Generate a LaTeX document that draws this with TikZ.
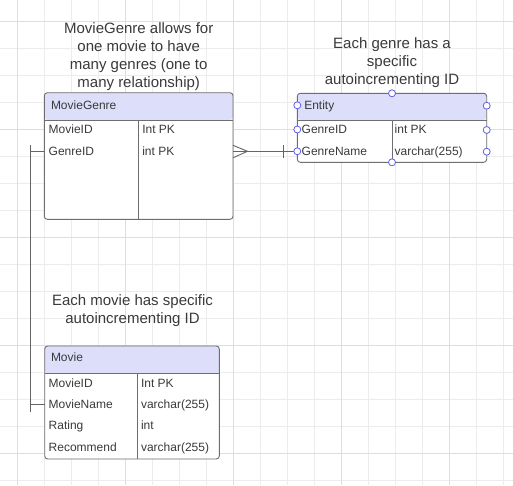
\documentclass[tikz,border=0pt]{standalone}
\usepackage{fontspec}
\setmainfont{Liberation Sans}
\usetikzlibrary{calc}
\definecolor{gridlight}{RGB}{236,236,236}
\definecolor{griddark}{RGB}{222,222,222}
\definecolor{tblborder}{RGB}{110,110,110}
\definecolor{hdr}{RGB}{221,222,250}
\definecolor{txt}{RGB}{58,58,58}
\definecolor{portblue}{RGB}{95,95,230}
\definecolor{connc}{RGB}{100,100,100}
\begin{document}
\begin{tikzpicture}[x=1pt,y=-1pt,
  every node/.style={inner sep=0pt, outer sep=0pt},
  tblfill/.style={fill=white, rounded corners=3pt, anchor=north west,
    path picture={\fill[hdr] (path picture bounding box.north west) rectangle ([yshift=-#1]path picture bounding box.north east);}},
  tblline/.style={draw=tblborder, line width=0.9pt},
  cell/.style={anchor=west, font=\fontsize{12}{14}\selectfont, text=txt, text height=8.6pt, text depth=0pt},
  note/.style={anchor=north, align=center, font=\fontsize{15}{18}\selectfont, text=txt},
  port/.style={circle, draw=portblue, fill=white, line width=0.8pt, minimum size=7pt},
  conn/.style={draw=connc, line width=0.9pt},
]
% background and grid
\fill[white] (0,0) rectangle (513,485);
\useasboundingbox (0,0) rectangle (513,485);
\foreach \k in {0,...,18} {\draw[gridlight, line width=0.8pt] ({17.5+27*\k},0) -- ({17.5+27*\k},485);}
\foreach \k in {0,...,17} {\draw[gridlight, line width=0.8pt] (0,{21.5+27*\k}) -- (513,{21.5+27*\k});}
\foreach \k in {0,4,8,12,16} {\draw[griddark, line width=0.8pt] ({17.5+27*\k},0) -- ({17.5+27*\k},485);}
\foreach \k in {0,4,8,12,16} {\draw[griddark, line width=0.8pt] (0,{21.5+27*\k}) -- (513,{21.5+27*\k});}

% notes
\node[note] (note1) at (138.7,22.6) {MovieGenre allows for\\one movie to have\\many genres (one to\\many relationship)};
\node[note] (note2) at (392,37.5) {Each genre has a\\specific\\autoincrementing ID};
\node[note] (note3) at (132.5,294.9) {Each movie has specific\\autoincrementing ID};

% MovieGenre table
\node[tblfill=27.3pt, minimum width=188.7pt, minimum height=126.6pt] (mg) at (44.3,92.7) {};
\draw[tblline, rounded corners=3pt] (mg.north west) rectangle (mg.south east);
\draw[tblline] (44.3,120) -- (233,120);
\draw[tblline] (138.7,120) -- (138.7,219.3);
\node[cell] (mgHead) at (51,105) {MovieGenre};
\node[cell] (mgMovie) at (48.7,129) {MovieID};
\node[cell] (mgMovieT) at (142.3,129) {Int PK};
\node[cell] (mgGen) at (48.7,151.3) {GenreID};
\node[cell] (mgGenT) at (142.3,151.3) {int PK};

% Entity table
\node[tblfill=26.7pt, minimum width=189.4pt, minimum height=69pt] (en) at (297.3,93.3) {};
\draw[tblline, rounded corners=3pt] (en.north west) rectangle (en.south east);
\draw[tblline] (297.3,120) -- (486.7,120);
\draw[tblline] (392,120) -- (392,162.3);
\node[cell] (enHead) at (304.3,105.3) {Entity};
\node[cell] (enId) at (301.7,129.3) {GenreID};
\node[cell] (enIdT) at (394.7,129.3) {int PK};
\node[cell] (enName) at (301.7,151.3) {GenreName};
\node[cell] (enNameT) at (394.7,151.3) {varchar(255)};

% Movie table
\node[tblfill=27.3pt, minimum width=174.6pt, minimum height=113pt] (mv) at (44.7,346) {};
\draw[tblline, rounded corners=3pt] (mv.north west) rectangle (mv.south east);
\draw[tblline] (44.7,373.3) -- (219.3,373.3);
\draw[tblline] (137.3,373.3) -- (137.3,459);
\node[cell] (mvHead) at (51,357.3) {Movie};
\node[cell] (mvId) at (48.7,382.7) {MovieID};
\node[cell] (mvIdT) at (141,382.7) {Int PK};
\node[cell] (mvName) at (48.7,404) {MovieName};
\node[cell] (mvNameT) at (141,404) {varchar(255)};
\node[cell] (mvRate) at (48.7,425.3) {Rating};
\node[cell] (mvRateT) at (141,425.3) {int};
\node[cell] (mvRec) at (48.7,446.7) {Recommend};
\node[cell] (mvRecT) at (141,446.7) {varchar(255)};

% connector MovieGenre -> Entity (many to one)
\coordinate (mgR) at (mg.east |- mgGen.west);
\coordinate (enL) at (en.west |- enName.west);
\draw[conn] (mgR) -- (enL);
\draw[conn] ($(mgR)+(0,-6)$) -- ($(mgR)+(14.5,0)$) -- ($(mgR)+(0,6.5)$);
\draw[conn] ($(enL)+(-14,-6)$) -- ($(enL)+(-14,6.5)$);

% connector MovieGenre -> Movie
\coordinate (L1) at ($(mg.west |- mgGen.west)+(-14.2,0)$);
\coordinate (L2) at (L1 |- mvName.west);
\draw[conn] (mg.west |- mgGen.west) -- (L1);
\draw[conn] (mv.west |- mvName.west) -- (L2);
\draw[conn] ($(L1)+(0,-6)$) -- ($(L2)+(0,7.5)$);

% ports on Entity
\node[port] (p1) at (297.3,105.3) {};
\node[port] (p2) at (297.3,129.5) {};
\node[port] (p3) at (enL) {};
\node[port] (p4) at (486.7,105.7) {};
\node[port] (p5) at (486.7,130) {};
\node[port] (p6) at (486.7,151.7) {};
\node[port] (p7) at (392,93.3) {};
\node[port] (p8) at (392,162.3) {};
\end{tikzpicture}
\end{document}
